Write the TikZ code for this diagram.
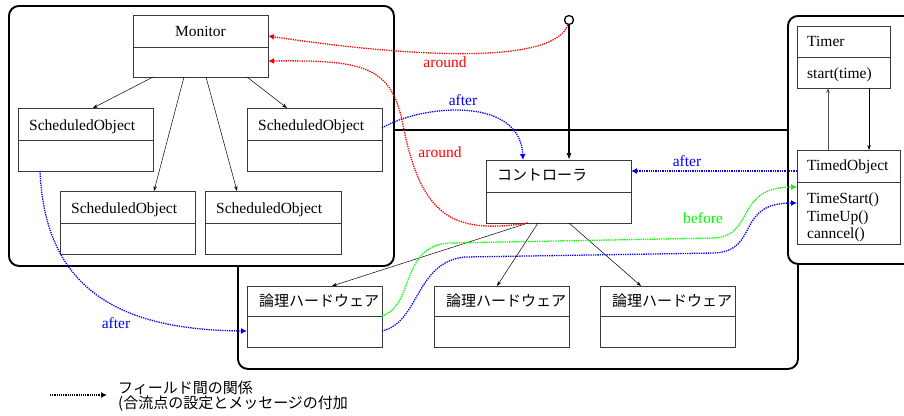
\documentclass[tikz,border=0pt]{standalone}
\usepackage{fontspec}
\setmainfont{Liberation Serif}
\newfontfamily\jp{Noto Sans CJK JP}
\usetikzlibrary{arrows.meta,calc}
\definecolor{boxc}{HTML}{3A3A3A}
\definecolor{upc}{HTML}{555555}
\newcommand\clsbox[6]{%
  \node[cls,minimum width=#4pt,minimum height=#5pt] (#1) at (#2,#3) {};
  \draw[boxc,line width=0.9pt] ($(#1.north west)+(0,#6)$) -- ($(#1.north east)+(0,#6)$);}
\begin{document}
\begin{tikzpicture}[x=1pt,y=-1pt,font=\fontsize{15.5}{17.5}\selectfont,
  frame/.style={draw=black,line width=1.9pt,rounded corners=10pt,fill=white,anchor=north west,inner sep=0pt},
  cls/.style={draw=boxc,line width=0.9pt,fill=white,inner sep=0pt,outer sep=0pt,anchor=north west},
  txt/.style={inner sep=0pt,anchor=base west},
  jptxt/.style={inner sep=0pt,anchor=west,font=\jp\fontsize{15}{18}\selectfont},
  lab/.style={inner sep=0pt},
  dep/.style={draw=black,line width=0.5pt,-{Stealth[length=5pt,width=3.5pt]}},
  rel/.style={densely dotted,line width=1.3pt,-{Latex[length=6pt,width=6pt]}}]
\useasboundingbox (0,0) rectangle (904,415);
\clip (0,0) rectangle (904,415);
% frames
\node[frame,minimum width=560pt,minimum height=239pt] (fmid) at (237,129) {};
\node[frame,minimum width=385pt,minimum height=260pt] (fleft) at (8,5) {};
\node[frame,minimum width=150pt,minimum height=248pt] (fright) at (787,15) {};
% classes
\clsbox{mon}{133}{15}{135}{62}{32}
\clsbox{soA}{18}{108}{135}{63}{32}
\clsbox{soB}{247}{108}{135}{63}{32}
\clsbox{soC}{60}{191}{135}{63}{32}
\clsbox{soD}{205}{191}{136}{63}{32}
\clsbox{ctl}{486}{160}{145}{63}{32}
\clsbox{hw1}{247}{286}{135}{61}{30}
\clsbox{hw2}{434}{286}{135}{61}{30}
\clsbox{hw3}{600}{286}{135}{61}{30}
\clsbox{tmr}{797}{26}{93}{62}{31}
\clsbox{tob}{797}{150}{103}{94}{32}
% texts
\node[inner sep=0pt,anchor=base] (monT) at ($(mon.north)+(0,21)$) {Monitor};
\node[txt] (soAT) at ($(soA.north west)+(11,22.5)$) {ScheduledObject};
\node[txt] (soBT) at ($(soB.north west)+(11,22.5)$) {ScheduledObject};
\node[txt] (soCT) at ($(soC.north west)+(11,22.5)$) {ScheduledObject};
\node[txt] (soDT) at ($(soD.north west)+(11,22.5)$) {ScheduledObject};
\node[jptxt] (ctlT) at ($(ctl.north west)+(11,15)$) {コントローラ};
\node[jptxt] (hw1T) at ($(hw1.north west)+(12,14.5)$) {論理ハードウェア};
\node[jptxt] (hw2T) at ($(hw2.north west)+(12,14.5)$) {論理ハードウェア};
\node[jptxt] (hw3T) at ($(hw3.north west)+(12,14.5)$) {論理ハードウェア};
\node[txt] (tmrT) at ($(tmr.north west)+(10,20.7)$) {Timer};
\node[txt] (tmrM) at ($(tmr.north west)+(10,52)$) {start(time)};
\node[txt] (tobT) at ($(tob.north west)+(10,20)$) {TimedObject};
\node[txt] (tobM1) at ($(tob.north west)+(10,53.3)$) {TimeStart()};
\node[txt] (tobM2) at ($(tob.north west)+(10,71.5)$) {TimeUp()};
\node[txt] (tobM3) at ($(tob.north west)+(10,88.3)$) {canncel()};
% source circle
\node[circle,draw,line width=1.3pt,minimum size=9pt,inner sep=0pt,fill=white] (src) at (569,20) {};
\draw[line width=1.3pt,-{Latex[length=7pt,width=5pt]}] (src.south) -- (src.south |- ctl.north);
% monitor dependencies
\draw[dep] ($(mon.south west)+(20,0)$) -- ($(soA.north west)+(75,0)$);
\draw[dep] ($(mon.south west)+(51,0)$) -- ($(soC.north west)+(94,0)$);
\draw[dep] ($(mon.south west)+(73,0)$) -- ($(soD.north west)+(32,0)$);
\draw[dep] ($(mon.south west)+(114,0)$) -- ($(soB.north west)+(40,0)$);
% controller dependencies
\draw[dep] ($(ctl.south west)+(42,0)$) -- ($(hw1.north west)+(85,0)$);
\draw[dep] ($(ctl.south west)+(52,0)$) -- ($(hw2.north west)+(63,0)$);
\draw[dep] ($(ctl.south west)+(83,0)$) -- ($(hw3.north west)+(41,0)$);
% timer
\draw[dep,draw=upc,line width=1pt] ($(tob.north west)+(31,0)$) -- ($(tmr.south west)+(31,0)$);
\draw[dep] ($(tmr.south west)+(72,0)$) -- ($(tob.north west)+(72,0)$);
% relations
\draw[rel,red] (src.-105) .. controls (555,62) and (430,60) .. ($(mon.north east)+(0,21)$);
\draw[rel,red] ($(ctl.south west)+(42,0)$) .. controls (450,235) and (420,215) .. (402,120) .. controls (390,65) and (360,60) .. ($(mon.north east)+(0,46)$);
\draw[rel,blue] ($(soB.north east)+(0,20)$) .. controls (420,105) and (520,95) .. ($(ctl.north west)+(37,0)$);
\draw[rel,blue] ($(tob.north west)+(0,21)$) -- ($(ctl.north east)+(0,11)$);
\draw[rel,green] ($(hw1.north east)+(0,30)$) .. controls (415,305) and (400,245) .. (450,243) -- (715,238) .. controls (755,235) and (735,187) .. ($(tob.north west)+(0,37)$);
\draw[rel,blue] ($(hw1.north east)+(0,45)$) .. controls (420,322) and (415,262) .. (465,257) -- (715,253) .. controls (760,250) and (735,203) .. ($(tob.north west)+(0,53)$);
\draw[rel,blue] ($(soA.south west)+(22,0)$) .. controls (45,290) and (120,330) .. ($(hw1.north west)+(0,45)$);
% labels
\node[lab,red] (l1) at (445,62) {around};
\node[lab,red] (l2) at (440,152) {around};
\node[lab,blue] (l3) at (463,100) {after};
\node[lab,blue] (l4) at (687,161) {after};
\node[lab,green] (l5) at (703,218) {before};
\node[lab,blue] (l6) at (116,323) {after};
% legend
\coordinate (lgA) at (50,395);
\coordinate (lgB) at (107,395);
\draw[densely dotted,line width=1.2pt,-{Latex[length=6pt,width=6pt]}] (lgA) -- (lgB);
\node[jptxt] (lg1) at (118,388) {フィールド間の関係};
\node[jptxt] (lg2) at (118,404) {(合流点の設定とメッセージの付加};
\end{tikzpicture}
\end{document}
